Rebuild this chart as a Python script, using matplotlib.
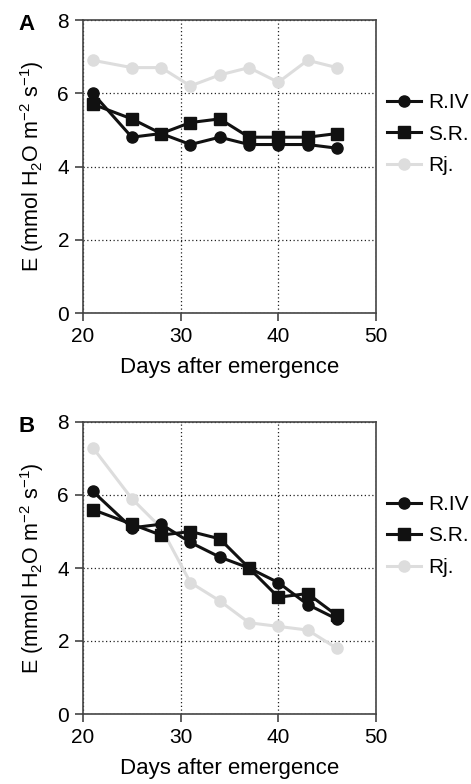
import matplotlib
matplotlib.use('Agg')
import matplotlib.pyplot as plt

plt.rcParams['font.family'] = ['Liberation Sans', 'DejaVu Sans']
plt.rcParams['mathtext.fontset'] = 'custom'
plt.rcParams['mathtext.rm'] = 'Liberation Sans'
plt.rcParams['mathtext.it'] = 'Liberation Sans'

# days after emergence
days = [21, 25, 28, 31, 34, 37, 40, 43, 46]

# panel A
a_riv = [6.0, 4.8, 4.9, 4.6, 4.8, 4.6, 4.6, 4.6, 4.5]
a_sr = [5.7, 5.3, 4.9, 5.2, 5.3, 4.8, 4.8, 4.8, 4.9]
a_rj = [6.9, 6.7, 6.7, 6.2, 6.5, 6.7, 6.3, 6.9, 6.7]

# panel B
b_riv = [6.1, 5.1, 5.2, 4.7, 4.3, 4.0, 3.6, 3.0, 2.6]
b_sr = [5.6, 5.2, 4.9, 5.0, 4.8, 4.0, 3.2, 3.3, 2.7]
b_rj = [7.3, 5.9, 5.1, 3.6, 3.1, 2.5, 2.4, 2.3, 1.8]

panels = [('A', a_riv, a_sr, a_rj), ('B', b_riv, b_sr, b_rj)]
labels = ['R.IV', 'S.R.', 'Rj.']

W, H = 471, 784
fig = plt.figure(figsize=(W / 100, H / 100), dpi=100)

# axes boxes in pixels: left, top, right, bottom
boxes = [(83, 20, 376, 313), (83, 422, 376, 714)]

for (letter, riv, sr, rj), (l, t, r, b) in zip(panels, boxes):
    ax = fig.add_axes([l / W, 1 - b / H, (r - l) / W, (b - t) / H])
    ax.plot(days, rj, color='#dddddd', marker='o', markersize=8, lw=2.2, label=labels[2], zorder=2)
    ax.plot(days, riv, color='#111111', marker='o', markersize=8, lw=2.2, label=labels[0], zorder=3)
    ax.plot(days, sr, color='#111111', marker='s', markersize=8, lw=2.2, label=labels[1], zorder=3)

    ax.set_xlim(20, 50)
    ax.set_ylim(0, 8)
    ax.set_xticks([20, 30, 40, 50])
    ax.set_yticks([0, 2, 4, 6, 8])
    ax.grid(True, linestyle=(0, (1, 2)), color='#222222', lw=0.9)
    ax.set_axisbelow(True)
    for s in ax.spines.values():
        s.set_color('#444444')
        s.set_linewidth(1.2)
    ax.tick_params(direction='out', length=6, width=1.2, color='#444444', labelsize=15, pad=4)

    ax.set_xlabel('Days after emergence', fontsize=16, labelpad=8)
    ax.set_ylabel('E (mmol H$_2$O m$^{-2}$ s$^{-1}$)', fontsize=15.5, labelpad=8)

    h, lab = ax.get_legend_handles_labels()
    order = [1, 2, 0]
    ax.legend([h[i] for i in order], [lab[i] for i in order], loc='center left',
              bbox_to_anchor=(1.01, 0.61), frameon=False, fontsize=15,
              handlelength=1.6, handletextpad=0.35, labelspacing=0.6, borderaxespad=0)

    fig.text(18 / W, 1 - (t + 5) / H, letter, fontsize=16, fontweight='bold', va='center')

fig.savefig('out.png', dpi=100)
